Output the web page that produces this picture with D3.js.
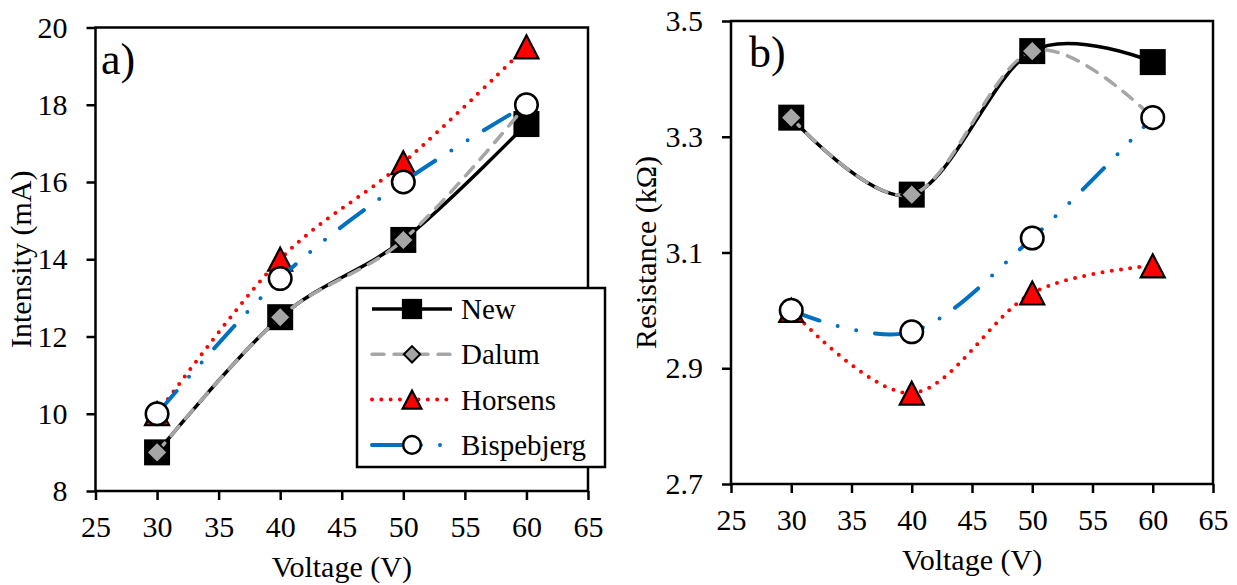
<!DOCTYPE html>
<html>
<head>
<meta charset="utf-8">
<script src="https://cdn.jsdelivr.net/npm/d3@7"></script>
<style>
  html, body { margin: 0; padding: 0; background: #fff; }
  svg text { font-family: 'Liberation Serif', 'Times New Roman', serif !important; fill: #000; }
  .axis path, .axis line { stroke: #000; stroke-width: 2.5; }
  .axis text { font-size: 30px; }
  .frame { fill: none; stroke: #000; stroke-width: 2.5; }
  .title { font-size: 30px; }
  .panel { font-size: 44px; }
  .legend text { font-size: 29px; }
</style>
</head>
<body>
<svg id="chart" width="1237" height="585"></svg>
<script>
const voltage = [30, 40, 50, 60];
const seriesNames = ['New', 'Dalum', 'Horsens', 'Bispebjerg'];

// panel a) intensity (mA)
const intensityNew     = [9, 12.5, 14.5, 17.5];
const intensityDalum   = [9, 12.5, 14.5, 18];
const intensityHorsens = [10, 14, 16.5, 19.5];
const intensityBisp    = [10, 13.5, 16, 18];

// panel b) resistance (kΩ)
const resistNew     = [3.333, 3.2, 3.448, 3.429];
const resistDalum   = [3.333, 3.2, 3.448, 3.333];
const resistHorsens = [3.0, 2.857, 3.03, 3.077];
const resistBisp    = [3.0, 2.963, 3.125, 3.333];

const xTicks = [25, 30, 35, 40, 45, 50, 55, 60, 65];
const intensityTicks = [8, 10, 12, 14, 16, 18, 20];
const resistTicks = [2.7, 2.9, 3.1, 3.3, 3.5];

const STYLE = {
  New:        { color: '#000',    width: 3.5, dash: null,               cap: 'butt',  marker: 'square' },
  Dalum:      { color: '#a6a6a6', width: 3.5, dash: '12,10',            cap: 'round', marker: 'diamond' },
  Horsens:    { color: '#ff0000', width: 4,   dash: '0,9.3',            cap: 'round', marker: 'triangle' },
  Bispebjerg: { color: '#0070c0', width: 4,   dash: '30,19,0,19,0,19',  cap: 'round', marker: 'circle' },
};

const svg = d3.select('#chart');

function drawMarker(g, kind, x, y, s) {
  if (kind === 'square') {
    g.append('rect').attr('x', x - 13 * s).attr('y', y - 13 * s)
      .attr('width', 26 * s).attr('height', 26 * s).attr('fill', '#000');
  } else if (kind === 'diamond') {
    const r = 10.5 * s;
    g.append('path').attr('d', `M${x},${y - r}L${x + r},${y}L${x},${y + r}L${x - r},${y}Z`)
      .attr('fill', '#a6a6a6').attr('stroke', '#000').attr('stroke-width', 2);
  } else if (kind === 'triangle') {
    const w = 12 * s, h = 11.5 * s;
    g.append('path').attr('d', `M${x},${y - h}L${x + w},${y + h}L${x - w},${y + h}Z`)
      .attr('fill', '#ff0000').attr('stroke', '#000').attr('stroke-width', 2.2);
  } else if (kind === 'circle') {
    g.append('circle').attr('cx', x).attr('cy', y).attr('r', 11.3 * s)
      .attr('fill', '#fff').attr('stroke', '#000').attr('stroke-width', 2.5);
  }
}

function panel(opt) {
  const x = d3.scaleLinear().domain([25, 65]).range([opt.left, opt.right]);
  const y = d3.scaleLinear().domain(opt.yDomain).range([opt.bottom, opt.top]);
  const g = svg.append('g');

  g.append('g').attr('class', 'axis')
    .attr('transform', `translate(0,${opt.bottom})`)
    .call(d3.axisBottom(x).tickValues(xTicks).tickSize(9).tickSizeOuter(0).tickPadding(16));
  g.append('g').attr('class', 'axis')
    .attr('transform', `translate(${opt.left},0)`)
    .call(d3.axisLeft(y).tickValues(opt.yTicks).tickFormat(opt.fmt).tickSize(9).tickSizeOuter(0).tickPadding(19));
  g.selectAll('.axis .domain').remove();
  g.selectAll('.axis').attr('font-family', null).attr('font-size', null);

  g.append('rect').attr('class', 'frame')
    .attr('x', opt.left).attr('y', opt.top)
    .attr('width', opt.right - opt.left).attr('height', opt.bottom - opt.top);

  g.append('text').attr('class', 'panel')
    .attr('x', opt.labelX).attr('y', opt.top + 46).text(opt.label);

  g.append('text').attr('class', 'title').attr('text-anchor', 'middle')
    .attr('x', (opt.left + opt.right) / 2).attr('y', opt.bottom + 86).text('Voltage (V)');
  g.append('text').attr('class', 'title').attr('text-anchor', 'middle')
    .attr('transform', `translate(${opt.yTitleX},${(opt.top + opt.bottom) / 2}) rotate(-90)`)
    .text(opt.yTitle);

  const line = d3.line().x(d => x(d[0])).y(d => y(d[1])).curve(d3.curveCatmullRom.alpha(0));
  const plot = g.append('g');
  opt.series.forEach((vals, i) => {
    const st = STYLE[seriesNames[i]];
    const pts = voltage.map((v, j) => [v, vals[j]]);
    plot.append('path').attr('d', line(pts)).attr('fill', 'none')
      .attr('stroke', st.color).attr('stroke-width', st.width)
      .attr('stroke-linecap', st.cap)
      .attr('stroke-dasharray', st.dash);
    pts.forEach(p => drawMarker(plot, st.marker, x(p[0]), y(p[1]), 1));
  });
  return g;
}

panel({
  left: 95.5, right: 588, top: 27.5, bottom: 491,
  yDomain: [8, 20], yTicks: intensityTicks, fmt: d3.format('d'),
  label: 'a)', labelX: 101, yTitle: 'Intensity (mA)', yTitleX: 31,
  series: [intensityNew, intensityDalum, intensityHorsens, intensityBisp],
});

panel({
  left: 731, right: 1213, top: 21, bottom: 484,
  yDomain: [2.7, 3.5], yTicks: resistTicks, fmt: d3.format('.1f'),
  label: 'b)', labelX: 749, yTitle: 'Resistance (kΩ)', yTitleX: 656,
  series: [resistNew, resistDalum, resistHorsens, resistBisp],
});

// legend (panel a)
const lg = svg.append('g').attr('class', 'legend');
lg.append('rect').attr('x', 357).attr('y', 288).attr('width', 248).attr('height', 179)
  .attr('fill', '#fff').attr('stroke', '#000').attr('stroke-width', 2.5);
seriesNames.forEach((name, i) => {
  const st = STYLE[name];
  const cy = 309 + i * 45.3;
  lg.append('line').attr('x1', 372).attr('x2', 452).attr('y1', cy).attr('y2', cy)
    .attr('stroke', st.color).attr('stroke-width', st.width)
    .attr('stroke-linecap', st.cap).attr('stroke-dasharray', st.dash);
  drawMarker(lg, st.marker, 412, cy, 0.78);
  lg.append('text').attr('x', 461).attr('y', cy).attr('dy', '0.35em').text(name);
});
</script>
</body>
</html>
